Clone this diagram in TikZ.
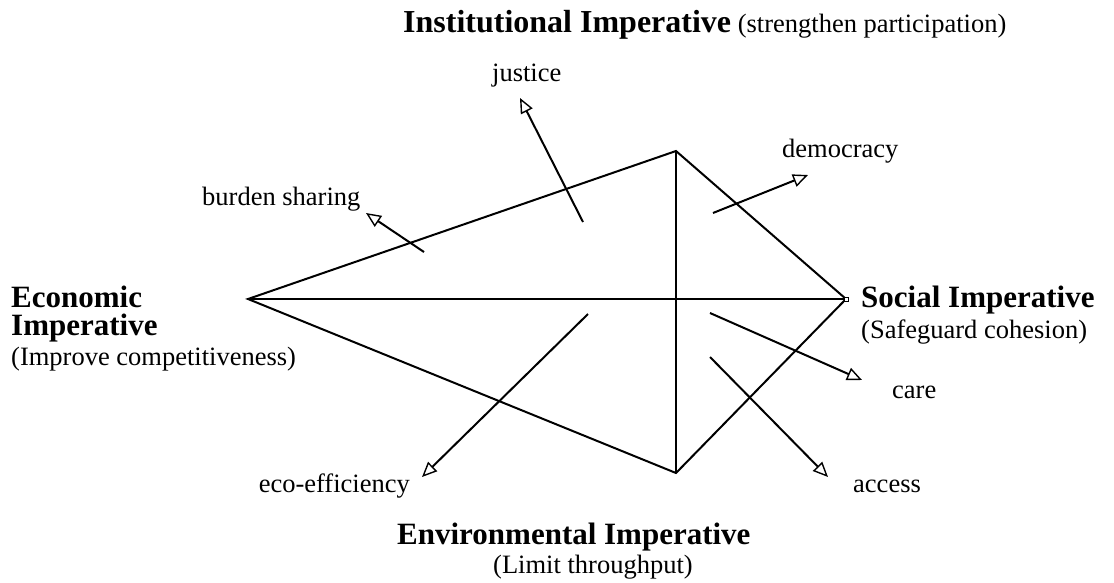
\documentclass[tikz,border=0pt]{standalone}
\usepackage{fontspec}
\setmainfont{Liberation Serif}
\usetikzlibrary{arrows.meta}
\begin{document}
\begin{tikzpicture}[x=1pt,y=-1pt,
  lbl/.style={inner sep=0pt,font=\fontsize{26.5}{30}\selectfont},
  hd/.style={inner sep=0pt,font=\fontsize{31}{34}\selectfont\bfseries},
  edge/.style={line width=2pt,line join=miter},
  pointer/.style={line width=2pt,-{Triangle[open,length=15pt,width=13pt,line width=1.4pt]}}]
\useasboundingbox (0,0) rectangle (1114,582);
% vertices
\coordinate (E) at (248,299);
\coordinate (T) at (676,151);
\coordinate (S) at (846,299);
\coordinate (B) at (676,473);
\draw[edge] (E) -- (T) -- (S) -- (B) -- cycle;
\draw[edge] (E) -- (S);
\draw[edge] (T) -- (B);
\node[draw,line width=0.8pt,minimum size=4pt,inner sep=0pt,fill=white] (Sbox) at (S) {};
% arrows
\coordinate (bs0) at (424,252); \coordinate (bs1) at (366,213);
\coordinate (ju0) at (583,222); \coordinate (ju1) at (520,98);
\coordinate (de0) at (713,213); \coordinate (de1) at (808,175);
\coordinate (ca0) at (710,313); \coordinate (ca1) at (862,380);
\coordinate (ac0) at (710,357); \coordinate (ac1) at (828,477);
\coordinate (ec0) at (588,314); \coordinate (ec1) at (422,477);
\draw[pointer] (bs0) -- (bs1);
\draw[pointer] (ju0) -- (ju1);
\draw[pointer] (de0) -- (de1);
\draw[pointer] (ca0) -- (ca1);
\draw[pointer] (ac0) -- (ac1);
\draw[pointer] (ec0) -- (ec1);
% labels
\node[anchor=base west,inner sep=0pt] (inst) at (403,32) {\fontsize{32}{34}\selectfont\bfseries Institutional Imperative\fontsize{26.5}{30}\selectfont\mdseries\ (strengthen participation)};
\node[lbl,anchor=base west] (justice) at (492,81) {justice};
\node[lbl,anchor=base west] (burden) at (202,205) {burden sharing};
\node[lbl,anchor=base west] (democ) at (782,157) {democracy};
\node[hd,anchor=base west] (econ1) at (11,307) {Economic};
\node[hd,anchor=base west] (econ2) at (11,335) {Imperative};
\node[lbl,anchor=base west] (econ3) at (11,365) {(Improve competitiveness)};
\node[hd,anchor=base west] (soc1) at (861,307) {Social Imperative};
\node[lbl,anchor=base west] (soc2) at (861,338) {(Safeguard cohesion)};
\node[lbl,anchor=base west] (care) at (892,398) {care};
\node[lbl,anchor=base west] (access) at (853,492) {access};
\node[lbl,anchor=base east] (eco) at (410,492) {eco-efficiency};
\node[hd,anchor=base west] (env1) at (397,544) {Environmental Imperative};
\node[lbl,anchor=base west] (env2) at (493,573) {(Limit throughput)};
\end{tikzpicture}
\end{document}
